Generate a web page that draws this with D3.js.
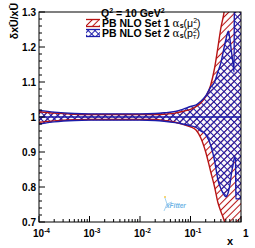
<!DOCTYPE html>
<html><head><meta charset="utf-8">
<script src="https://cdn.jsdelivr.net/npm/d3@7"></script>
<style>
    html, body { margin: 0; padding: 0; background: #fff; }
    text { font-family: "Liberation Sans", Arial, sans-serif; font-weight: bold; }
</style>
</head><body>
<svg id="svg" width="255" height="248"></svg>
<script>
    // x grid and band edges (ratio to central value)
    var xs     = [1e-4, 2e-4, 5e-4, 1e-3, 1e-2, 0.02, 0.03, 0.05, 0.07, 0.1, 0.13, 0.16, 0.2, 0.25, 0.3, 0.35, 0.4, 0.45, 0.5, 0.56, 0.6, 0.65, 0.7, 0.73, 0.74, 0.78, 0.79, 0.85, 1.0];
    var set1Hi = [1.015, 1.011, 1.008, 1.007, 1.007, 1.007, 1.008, 1.011, 1.016, 1.022, 1.030, 1.040, 1.058, 1.090, 1.140, 1.200, 1.255, 1.290, 1.330, 1.36, 1.36, 1.36, 1.36, 1.36, 1.36, 1.36, 1.36, 1.36, 1.36];
    var set1Lo = [0.985, 0.989, 0.992, 0.993, 0.993, 0.993, 0.990, 0.985, 0.979, 0.972, 0.962, 0.940, 0.900, 0.845, 0.800, 0.755, 0.730, 0.710, 0.690, 0.66, 0.66, 0.66, 0.66, 0.66, 0.66, 0.66, 0.66, 0.66, 0.66];
    var set2Hi = [1.019, 1.014, 1.010, 1.009, 1.009, 1.010, 1.012, 1.016, 1.022, 1.030, 1.035, 1.045, 1.060, 1.085, 1.100, 1.130, 1.155, 1.190, 1.220, 1.245, 1.225, 1.185, 1.150, 1.128, 1.36, 1.36, 1.36, 1.36, 1.36];
    var set2Lo = [0.980, 0.986, 0.990, 0.991, 0.991, 0.990, 0.988, 0.984, 0.980, 0.975, 0.970, 0.960, 0.950, 0.920, 0.875, 0.820, 0.795, 0.780, 0.772, 0.785, 0.805, 0.840, 0.865, 0.880, 0.883, 0.885, 0.766, 0.766, 0.766];

    var yTicks = [0.7, 0.8, 0.9, 1.0, 1.1, 1.2, 1.3];
    var yLabels = ["0.7", "0.8", "0.9", "1", "1.1", "1.2", "1.3"];
    var xTicks = [1e-4, 1e-3, 1e-2, 1e-1, 1];
    var xExps = ["-4", "-3", "-2", "-1", ""];

    var L = 39, R = 241, T = 12, B = 222;
    var red = "#b81414", blue = "#1c1caa";

    var svg = d3.select("#svg");
    var x = d3.scaleLog().domain([1e-4, 1]).range([L, R]);
    var y = d3.scaleLinear().domain([0.7, 1.3]).range([B, T]);

    var defs = svg.append("defs");
    function hatch(id, color, cross) {
        var s = 4.8;
        var p = defs.append("pattern").attr("id", id)
            .attr("patternUnits", "userSpaceOnUse")
            .attr("width", s).attr("height", s)
            .attr("patternTransform", "rotate(45)");
        p.append("line").attr("x1", s / 2).attr("x2", s / 2).attr("y1", 0).attr("y2", s)
            .attr("stroke", color).attr("stroke-width", 1.05);
        if (cross) {
            p.append("line").attr("y1", s / 2).attr("y2", s / 2).attr("x1", 0).attr("x2", s)
                .attr("stroke", color).attr("stroke-width", 1.05);
        }
    }
    hatch("h1", red, false);
    hatch("h2", blue, true);

    defs.append("clipPath").attr("id", "clip").append("rect")
        .attr("x", L).attr("y", T).attr("width", R - L).attr("height", B - T);

    function rows(lo, hi) {
        return xs.map(function (v, i) { return { x: v, lo: lo[i], hi: hi[i] }; });
    }
    var band1 = rows(set1Lo, set1Hi);
    var band2 = rows(set2Lo, set2Hi);

    var area = d3.area().curve(d3.curveMonotoneX)
        .x(function (d) { return x(d.x); })
        .y0(function (d) { return y(d.lo); })
        .y1(function (d) { return y(d.hi); });
    var lineHi = d3.line().curve(d3.curveMonotoneX)
        .x(function (d) { return x(d.x); }).y(function (d) { return y(d.hi); });
    var lineLo = d3.line().curve(d3.curveMonotoneX)
        .x(function (d) { return x(d.x); }).y(function (d) { return y(d.lo); });

    var g = svg.append("g").attr("clip-path", "url(#clip)");
    g.append("path").datum(band1).attr("d", area).attr("fill", "url(#h1)");
    g.append("path").datum(band2).attr("d", area).attr("fill", "url(#h2)");
    [[band1, red], [band2, blue]].forEach(function (b) {
        g.append("path").datum(b[0]).attr("d", lineHi).attr("fill", "none").attr("stroke", b[1]).attr("stroke-width", 1.4);
        g.append("path").datum(b[0]).attr("d", lineLo).attr("fill", "none").attr("stroke", b[1]).attr("stroke-width", 1.4);
    });
    g.append("line").attr("x1", L).attr("x2", R).attr("y1", y(1)).attr("y2", y(1))
        .attr("stroke", blue).attr("stroke-width", 1.5);

    // frame
    svg.append("rect").attr("x", L).attr("y", T).attr("width", R - L).attr("height", B - T)
        .attr("fill", "none").attr("stroke", "#000").attr("stroke-width", 1);

    // y axis ticks (inward)
    var yMinor = d3.range(0.7, 1.3001, 0.02);
    svg.append("g").selectAll("line").data(yMinor).enter().append("line")
        .attr("x1", L).attr("x2", function (d, i) { return L + (i % 5 === 0 ? 6 : 3); })
        .attr("y1", function (d) { return y(d); }).attr("y2", function (d) { return y(d); })
        .attr("stroke", "#000").attr("stroke-width", 1);
    svg.append("g").selectAll("text").data(yTicks).enter().append("text")
        .attr("x", L - 3).attr("y", function (d) { return y(d) + 3.5; })
        .attr("text-anchor", "end").attr("font-size", 10)
        .text(function (d, i) { return yLabels[i]; });

    // x axis ticks (inward)
    var xMinor = [];
    for (var e = -4; e < 0; e++) for (var m = 1; m < 10; m++) xMinor.push(m * Math.pow(10, e));
    xMinor.push(1);
    svg.append("g").selectAll("line").data(xMinor).enter().append("line")
        .attr("x1", function (d) { return x(d); }).attr("x2", function (d) { return x(d); })
        .attr("y1", B).attr("y2", function (d) { return B - (xTicks.some(function (t) { return Math.abs(t - d) < 1e-12; }) ? 6 : 3); })
        .attr("stroke", "#000").attr("stroke-width", 1);
    var xl = svg.append("g").selectAll("text").data(xTicks).enter().append("text")
        .attr("x", function (d, i) { return x(d) + (i === 4 ? 2 : -6); }).attr("y", 237)
        .attr("font-size", 10);
    xl.append("tspan").text(function (d, i) { return i === 4 ? "1" : "10"; });
    xl.append("tspan").attr("font-size", 6.5).attr("dy", -4)
        .text(function (d, i) { return xExps[i]; });

    svg.append("text").attr("x", 227).attr("y", 245).attr("font-size", 11).text("x");

    // y title
    svg.append("text").attr("transform", "translate(18,3) rotate(-90)")
        .attr("text-anchor", "end").attr("font-size", 10.5).attr("font-weight", "normal")
        .text("\u03B4x\u016A/x\u016A");

    // legend
    var q = svg.append("text").attr("x", 101).attr("y", 17).attr("font-size", 10.5);
    q.append("tspan").text("Q");
    q.append("tspan").attr("font-size", 7).attr("dy", -4).text("2");
    q.append("tspan").attr("dy", 4).text(" = 10 GeV");
    q.append("tspan").attr("font-size", 7).attr("dy", -4).text("2");

    var entries = [
        { fill: "url(#h1)", color: red, label: "PB NLO Set 1 ", arg: "\u03BC", sub: "" },
        { fill: "url(#h2)", color: blue, label: "PB NLO Set 2 ", arg: "p", sub: "T" }
    ];
    entries.forEach(function (en, i) {
        var yy = 19.5 + i * 10;
        svg.append("rect").attr("x", 86).attr("y", yy).attr("width", 14).attr("height", 7).attr("fill", en.fill);
        svg.append("line").attr("x1", 86).attr("x2", 100).attr("y1", yy).attr("y2", yy).attr("stroke", en.color).attr("stroke-width", 1.3);
        svg.append("line").attr("x1", 86).attr("x2", 100).attr("y1", yy + 7).attr("y2", yy + 7).attr("stroke", en.color).attr("stroke-width", 1.3);
        var t = svg.append("text").attr("x", 102).attr("y", yy + 7).attr("font-size", 10.5);
        t.append("tspan").text(en.label);
        t.append("tspan").attr("font-weight", "normal").attr("font-family", "DejaVu Serif").text("\u03B1");
        t.append("tspan").attr("font-size", 7).attr("dy", 1.5).text("s");
        t.append("tspan").attr("dy", -1.5).attr("font-weight", "normal").text("(" + en.arg);
        t.append("tspan").attr("font-size", 7).attr("dy", -4).attr("font-weight", "normal").text("2");
        if (en.sub) t.append("tspan").attr("font-size", 6).attr("dx", -4).attr("dy", 6).attr("font-weight", "normal").text(en.sub);
        t.append("tspan").attr("dy", en.sub ? -2 : 4).attr("font-weight", "normal").text(")");
    });

    // xFitter mark
    var lg = svg.append("g").attr("transform", "translate(163,208)");
    lg.append("path").attr("d", "M2,-10 L4,-4 L1,3 M4,-4 L9,-6").attr("stroke", "#8cc8ee").attr("stroke-width", 0.8).attr("fill", "none");
    lg.append("circle").attr("cx", 2).attr("cy", -11).attr("r", 1).attr("fill", "#f2c94c");
    lg.append("text").attr("x", 3).attr("y", 0).attr("font-size", 6.5).attr("font-style", "italic")
        .attr("font-weight", "normal").attr("fill", "#6fb5e6").text("xFitter");
</script>
</body></html>
